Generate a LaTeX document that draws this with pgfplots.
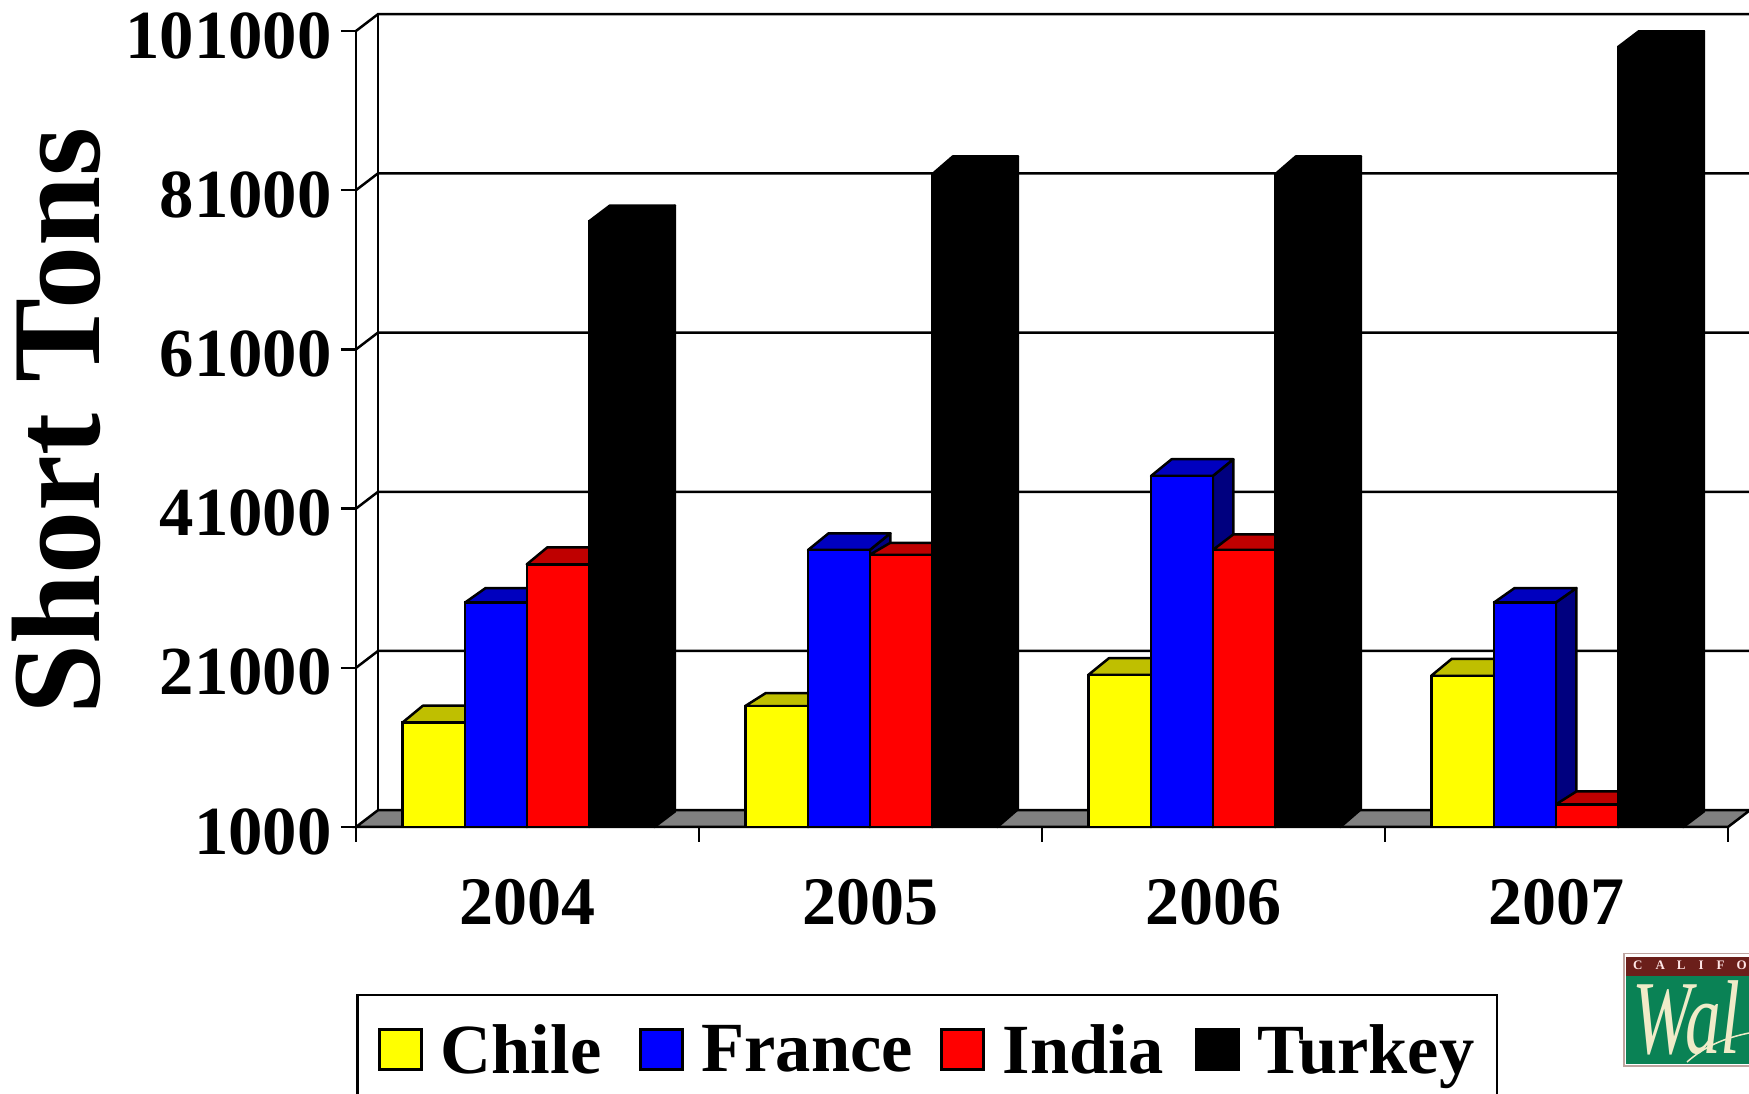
\documentclass[border=0pt]{standalone}
\usepackage{pgfplots}
\usepackage{fontspec}
\setmainfont{Liberation Serif}
\pgfplotsset{compat=1.18}
\definecolor{cyel}{HTML}{FFFF00}\definecolor{cyelt}{HTML}{BFBF00}\definecolor{cyels}{HTML}{7F7F00}
\definecolor{cblu}{HTML}{0000FF}\definecolor{cblut}{HTML}{0000BF}\definecolor{cblus}{HTML}{00007F}
\definecolor{cred}{HTML}{FF0000}\definecolor{credt}{HTML}{BF0000}\definecolor{creds}{HTML}{7F0000}
\definecolor{cream}{RGB}{240,235,200}
\pgfplotstableread{
x y
0.5 14100
1.5 16200
2.5 20100
3.5 20000
}\chile
\pgfplotstableread{
x y
0.5 29200
1.5 35800
2.5 45100
3.5 29200
}\france
\pgfplotstableread{
x y
0.5 34000
1.5 35200
2.5 35800
3.5 3830
}\india
\pgfplotstableread{
x y
0.5 77100
1.5 83000
2.5 83000
3.5 99000
}\turkey
% top and side faces of a bar: left edge, right edge, value, drawn depth, top colour, side colour
\newcommand{\barsolid}[6]{%
  \pgfmathsetmacro{\xc}{#2+0.06}\pgfmathsetmacro{\xd}{#1+0.06}%
  \edef\yb{\the\numexpr#3+#4\relax}\edef\yc{\the\numexpr1000+#4\relax}%
  \addplot[draw=black,line width=2.5pt,fill=#6,line join=round,forget plot] coordinates {(#2,1000) (\xc,\yc) (\xc,\yb) (#2,#3)} --cycle;
  \addplot[draw=black,line width=2.5pt,fill=#5,line join=round,forget plot] coordinates {(#1,#3) (\xd,\yb) (\xc,\yb) (#2,#3)} --cycle;
}
\pgfplotsset{
  base/.style={scale only axis,width=1372pt,height=796pt,at={(356pt,267pt)},anchor=south west,
    xmin=0,xmax=4,ymin=1000,ymax=101000},
  front/.style 2 args={ybar,bar width=#2,draw=black,line width=2.5pt,bar shift=#1,
    legend image code/.code={\draw[##1,line width=2.5pt] (0pt,-20pt) rectangle (42pt,20pt);}},
}
\begin{document}
\begin{tikzpicture}
\useasboundingbox (0,0) rectangle (1749pt,1094pt);
\clip (0,0) rectangle (1749pt,1094pt);
\begin{axis}[base,clip=false,
  axis x line*=bottom,axis y line*=left,
  axis line style={black,line width=2.5pt,-},
  tick style={black,line width=2.5pt},
  tick align=outside,major tick length=15pt,
  scaled y ticks=false,
  ytick={1000,21000,41000,61000,81000,101000},
  yticklabels={1000,21000,41000,61000,81000,101000},
  yticklabel style={font=\fontsize{68.8}{70}\selectfont\bfseries,inner sep=0pt,xshift=-9pt,yshift=-4.5pt},
  xtick={0,1,2,3,4},xticklabels={},
  extra x ticks={0.5,1.5,2.5,3.5},
  extra x tick labels={2004,2005,2006,2007},
  extra x tick style={major tick length=0pt,tick label style={font=\fontsize{68}{70}\selectfont\bfseries,inner sep=0pt,yshift=-52pt}},
  ylabel={Short Tons},
  ylabel style={font=\fontsize{126}{128}\selectfont\bfseries,at={(axis description cs:-0.187,0.5095)},anchor=base,inner sep=0pt},
]
% floor
\addplot[draw=black,line width=2.5pt,fill=black!50,forget plot] coordinates {(0,1000) (0.0641,3110) (4.0641,3110) (4,1000)} --cycle;
% back wall and gridlines
\addplot[black,line width=2.5pt,forget plot] coordinates {(0.0641,3110) (0.0641,103110)};
\addplot[black,line width=2.5pt,forget plot] coordinates {(0,21000) (0.0641,23110) (4.0641,23110)};
\addplot[black,line width=2.5pt,forget plot] coordinates {(0,41000) (0.0641,43110) (4.0641,43110)};
\addplot[black,line width=2.5pt,forget plot] coordinates {(0,61000) (0.0641,63110) (4.0641,63110)};
\addplot[black,line width=2.5pt,forget plot] coordinates {(0,81000) (0.0641,83110) (4.0641,83110)};
\addplot[black,line width=2.5pt,forget plot] coordinates {(0,101000) (0.0641,103110) (4.0641,103110)};
% top and side faces
\barsolid{0.135}{0.318}{14100}{2135}{cyelt}{cyels}
\barsolid{1.135}{1.318}{16200}{1633}{cyelt}{cyels}
\barsolid{2.135}{2.318}{20100}{2100}{cyelt}{cyels}
\barsolid{3.135}{3.318}{20000}{2135}{cyelt}{cyels}
\barsolid{0.318}{0.498}{29200}{1820}{cblut}{cblus}
\barsolid{1.318}{1.498}{35800}{2100}{cblut}{cblus}
\barsolid{2.318}{2.498}{45100}{2100}{cblut}{cblus}
\barsolid{3.318}{3.498}{29200}{1820}{cblut}{cblus}
\barsolid{0.498}{0.680}{34000}{2135}{credt}{creds}
\barsolid{1.498}{1.680}{35200}{1507}{credt}{creds}
\barsolid{2.498}{2.680}{35800}{1960}{credt}{creds}
\barsolid{3.498}{3.680}{3830}{1633}{credt}{creds}
\barsolid{0.680}{0.870}{77100}{1960}{black}{black}
\barsolid{1.680}{1.870}{83000}{2236}{black}{black}
\barsolid{2.680}{2.870}{83000}{2236}{black}{black}
\barsolid{3.680}{3.870}{99000}{1960}{black}{black}
\end{axis}
\begin{axis}[base,axis on top,
  axis x line*=bottom,axis y line=none,
  axis line style={black,line width=2.5pt,-},
  xtick=\empty,ytick=\empty,
  legend columns=4,
  legend style={at={(0,-0.2098)},anchor=north west,draw=black,line width=2.5pt,
    font=\fontsize{70.5}{72}\selectfont\bfseries,inner xsep=21pt,inner ysep=29pt,
    /tikz/every even column/.append style={column sep=0pt},
    /tikz/every odd column/.append style={column sep=0pt},
    nodes={inner sep=0pt}},
]
\addplot[front={-0.2735}{0.183},fill=cyel] table[x=x,y=y] {\chile};
\addlegendentry{\hspace*{18pt}Chile\kern37.7pt\mbox{}}
\addplot[front={-0.092}{0.18},fill=cblu] table[x=x,y=y] {\france};
\addlegendentry{\hspace*{18pt}France\kern27.5pt\mbox{}}
\addplot[front={0.089}{0.182},fill=cred] table[x=x,y=y] {\india};
\addlegendentry{\hspace*{18pt}India\kern31.5pt\mbox{}}
\addplot[front={0.275}{0.19},fill=black] table[x=x,y=y] {\turkey};
\addlegendentry{\hspace*{18pt}Turkey\kern1.4pt\mbox{}}
\end{axis}
% logo
\fill[fill={rgb,255:red,190;green,165;blue,160}] (1623pt,27pt) rectangle (1760pt,141pt);
\fill[fill=white] (1624.5pt,28.5pt) rectangle (1760pt,139.5pt);
\fill[fill={rgb,255:red,10;green,130;blue,85}] (1626pt,30pt) rectangle (1760pt,118pt);
\fill[fill={rgb,255:red,107;green,31;blue,26}] (1626pt,118pt) rectangle (1760pt,137pt);
\node[anchor=base west,inner sep=0pt,text=white!90!red] at (1633pt,124pt) {\fontsize{13}{14}\selectfont\bfseries C\hspace{13pt}A\hspace{12pt}L\hspace{13pt}I\hspace{13pt}F\hspace{12pt}O};
\node[anchor=base west,inner sep=0pt,text=cream,xscale=0.68,transform shape] at (1632pt,40pt) {\fontsize{105}{107}\selectfont\itshape Wal};
\draw[cream,line width=1.5pt] (1687pt,32pt) .. controls (1705pt,48pt) and (1725pt,56pt) .. (1749pt,61pt);
\end{tikzpicture}
\end{document}
